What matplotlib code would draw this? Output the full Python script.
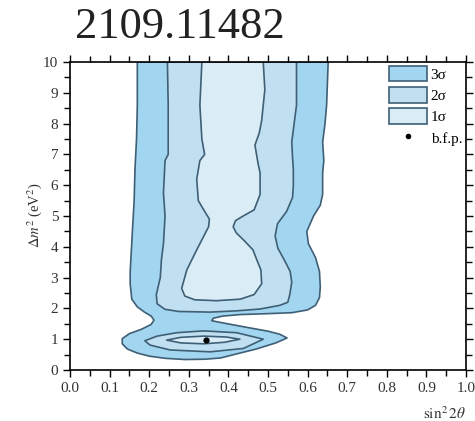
import matplotlib
matplotlib.use("Agg")
import matplotlib.pyplot as plt
from matplotlib.patches import Patch
from matplotlib.lines import Line2D
from matplotlib.ticker import MultipleLocator

plt.rcParams['font.family'] = ['Liberation Serif', 'DejaVu Serif']
plt.rcParams['mathtext.fontset'] = 'stix'

# allowed regions in (sin^2 2theta, dm^2) -- outlines of each confidence level
sig3_x = [0.170, 0.170, 0.168, 0.164, 0.162, 0.158, 0.155, 0.152, 0.152, 0.156,
          0.170, 0.188, 0.205, 0.212, 0.205, 0.180, 0.150, 0.132, 0.132, 0.145,
          0.170, 0.200, 0.240, 0.290, 0.340, 0.380, 0.420, 0.470, 0.520, 0.548,
          0.530, 0.500, 0.440, 0.390, 0.358, 0.362, 0.385, 0.430, 0.500, 0.560,
          0.600, 0.620, 0.630, 0.632, 0.630, 0.620, 0.602, 0.598, 0.615, 0.632,
          0.638, 0.638, 0.641, 0.638, 0.644, 0.648, 0.652]
sig3_y = [10.0, 8.6, 7.5, 6.5, 5.5, 4.6, 3.9, 3.2, 2.8, 2.3,
          2.05, 1.88, 1.75, 1.62, 1.48, 1.32, 1.18, 1.02, 0.85, 0.68,
          0.55, 0.45, 0.38, 0.34, 0.35, 0.39, 0.52, 0.68, 0.88, 1.04,
          1.16, 1.26, 1.40, 1.52, 1.60, 1.68, 1.75, 1.80, 1.83, 1.86,
          1.95, 2.10, 2.35, 2.70, 3.20, 3.65, 4.10, 4.50, 5.00, 5.35,
          5.70, 6.40, 6.80, 7.40, 8.00, 8.60, 10.0]

sig2_up_x = [0.246, 0.248, 0.248, 0.240, 0.236, 0.240, 0.236, 0.231, 0.228, 0.218,
             0.220, 0.240, 0.275, 0.354, 0.420, 0.480, 0.530, 0.550, 0.555, 0.560,
             0.556, 0.540, 0.525, 0.518, 0.524, 0.547, 0.562, 0.564, 0.564, 0.562,
             0.560, 0.565, 0.572, 0.572]
sig2_up_y = [10.0, 8.6, 7.0, 6.8, 5.75, 5.0, 4.1, 3.6, 3.0, 2.45,
             2.15, 1.97, 1.90, 1.88, 1.92, 1.98, 2.10, 2.20, 2.45, 2.85,
             3.20, 3.60, 3.95, 4.35, 4.75, 5.15, 5.60, 6.00, 6.50, 6.90,
             7.40, 7.90, 8.60, 10.0]

sig2_low_x = [0.189, 0.220, 0.269, 0.337, 0.421, 0.488, 0.438, 0.354, 0.253, 0.202]
sig2_low_y = [0.95, 1.10, 1.21, 1.27, 1.21, 1.00, 0.70, 0.59, 0.65, 0.81]

sig1_up_x = [0.333, 0.328, 0.333, 0.340, 0.328, 0.320, 0.324, 0.340, 0.352, 0.350,
             0.340, 0.320, 0.295, 0.282, 0.290, 0.315, 0.370, 0.430, 0.465, 0.484,
             0.482, 0.471, 0.462, 0.440, 0.420, 0.412, 0.418, 0.440, 0.465, 0.480,
             0.480, 0.475, 0.467, 0.478, 0.484, 0.492, 0.488]
sig1_up_y = [10.0, 8.6, 7.5, 7.0, 6.8, 6.2, 5.5, 5.15, 4.9, 4.65,
             4.40, 3.9, 3.25, 2.65, 2.40, 2.28, 2.25, 2.30, 2.45, 2.80,
             3.25, 3.60, 3.90, 4.20, 4.45, 4.65, 4.85, 5.02, 5.20, 5.70,
             6.40, 6.70, 7.30, 7.70, 8.10, 9.10, 10.0]

sig1_low_x = [0.244, 0.280, 0.337, 0.395, 0.429, 0.390, 0.337, 0.280]
sig1_low_y = [0.97, 1.06, 1.10, 1.07, 1.00, 0.90, 0.85, 0.88]

bfp_x, bfp_y = 0.343, 0.98

c3, c2, c1 = '#a2d5ef', '#c0dff0', '#daedf7'
edge = '#3e5f75'

fig = plt.figure(figsize=(4.75, 4.21), dpi=100)
ax = fig.add_axes([70/475, 51/421, 396/475, 308/421])

kw = dict(edgecolor=edge, linewidth=1.2, joinstyle='round')
ax.fill(sig3_x, sig3_y, facecolor=c3, **kw)
ax.fill(sig2_up_x, sig2_up_y, facecolor=c2, **kw)
ax.fill(sig2_low_x, sig2_low_y, facecolor=c2, **kw)
ax.fill(sig1_up_x, sig1_up_y, facecolor=c1, **kw)
ax.fill(sig1_low_x, sig1_low_y, facecolor=c1, **kw)
ax.plot(bfp_x, bfp_y, 'o', color='k', markersize=3.5)

ax.set_xlim(0, 1)
ax.set_ylim(0, 10)
ax.xaxis.set_major_locator(MultipleLocator(0.1))
ax.xaxis.set_minor_locator(MultipleLocator(0.05))
ax.yaxis.set_major_locator(MultipleLocator(1))
ax.yaxis.set_minor_locator(MultipleLocator(0.5))
ax.xaxis.set_major_formatter(plt.FuncFormatter(lambda v, p: f'{v:.1f}'))
ax.tick_params(which='both', direction='out', top=True, right=True,
               width=1, labelsize=11, colors='k', labelcolor='#333333')
ax.tick_params(which='major', length=5)
ax.tick_params(which='minor', length=4)
for s in ax.spines.values():
    s.set_linewidth(1.2)

handles = [Patch(facecolor=c3, edgecolor=edge, lw=1.2),
           Patch(facecolor=c2, edgecolor=edge, lw=1.2),
           Patch(facecolor=c1, edgecolor=edge, lw=1.2),
           Line2D([], [], marker='o', color='k', ls='', markersize=3)]
ax.legend(handles, ['3σ', '2σ', '1σ', 'b.f.p.'], loc='upper right',
          bbox_to_anchor=(1.0, 1.0), frameon=False, fontsize=11,
          handlelength=2.45, handleheight=1.2, labelspacing=0.35,
          handletextpad=0.25, borderpad=0.15, borderaxespad=0.1)

fig.text(75/475, 1 - 38/421, '2109.11482', fontsize=32, va='baseline',
         color='#222222')
fig.text(466/475, 1 - 419/421, r'$\sin^2 2\theta$', fontsize=11,
         ha='right', va='baseline', color='#333333')
fig.text(35/475, 1 - 215/421, r'$\Delta m^2$ (eV$^2$)', fontsize=10.5,
         rotation=90, ha='center', va='center', color='#333333')

fig.savefig('out.png', dpi=100)
